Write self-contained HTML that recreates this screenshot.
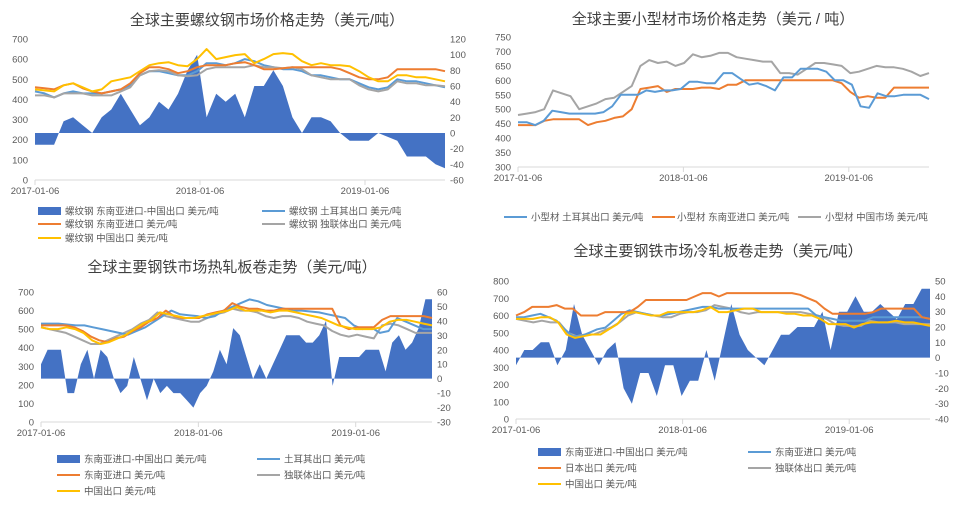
<!DOCTYPE html>
<html><head><meta charset="utf-8">
<style>
html,body{margin:0;padding:0;background:#fff;}
svg{display:block;font-family:"Liberation Sans","Noto Sans CJK SC",sans-serif;}
</style></head>
<body>
<svg id="root" width="971" height="508" viewBox="0 0 971 508"></svg>
<script>
// ---------- Chart 1: rebar ----------
const c1Title = "全球主要螺纹钢市场价格走势（美元/吨）";
const c1China = [450,445,440,470,480,460,440,450,490,500,510,540,570,580,585,570,565,600,650,600,610,620,625,580,600,625,630,625,590,570,580,570,570,565,540,510,490,490,520,520,510,510,500,490];
const c1Sea = [460,455,450,470,480,455,440,430,440,450,480,530,560,560,550,530,540,560,570,570,570,580,585,570,550,550,555,560,560,560,560,560,550,530,510,500,500,510,550,550,550,550,550,540];
const c1Turkey = [440,430,410,430,440,430,430,430,440,450,470,520,540,540,530,520,520,540,580,580,570,580,600,590,570,560,550,550,540,520,520,510,500,500,480,460,450,460,500,490,490,480,470,460];
const c1Cis = [420,420,410,430,430,430,420,420,420,440,460,520,540,545,540,520,515,520,550,560,560,560,560,570,560,560,555,560,550,520,510,500,500,500,470,450,440,450,490,480,480,470,470,465];
const c1Diff = [-15,-15,-15,15,20,10,0,20,30,50,30,10,20,40,30,50,80,100,20,50,40,50,20,60,60,80,60,20,0,20,20,15,0,-10,-10,-10,0,-5,-10,-30,-30,-30,-40,-45];
const c1LeftTicks = [0,100,200,300,400,500,600,700];
const c1RightTicks = [-60,-40,-20,0,20,40,60,80,100,120];
// ---------- Chart 2: sections ----------
const c2Title = "全球主要小型材市场价格走势（美元 / 吨）";
const c2China = [480,485,490,500,565,555,545,500,510,520,535,540,560,580,650,670,660,665,650,660,690,680,685,695,695,680,675,670,665,665,625,625,620,640,660,660,655,650,625,630,640,650,645,645,640,630,615,625];
const c2Turkey = [455,455,445,460,495,490,485,485,485,485,490,510,550,550,550,565,560,565,565,570,595,595,590,590,625,625,605,585,590,580,565,610,610,640,640,640,630,600,600,585,510,505,555,545,545,550,550,550,535];
const c2Sea = [445,445,445,460,465,465,465,465,445,455,460,470,475,500,570,575,580,560,570,570,570,575,575,570,585,585,600,600,600,600,600,600,600,600,600,600,600,590,560,540,545,540,540,575,575,575,575,575];
const c2LeftTicks = [300,350,400,450,500,550,600,650,700,750];
// ---------- Chart 3: HRC ----------
const c3Title = "全球主要钢铁市场热轧板卷走势（美元/吨）";
const c3Turkey = [530,530,530,525,520,520,510,500,490,480,470,490,510,540,570,600,580,575,570,560,570,600,620,640,660,650,630,620,610,600,600,595,590,580,570,560,520,500,510,480,490,560,540,520,500,500];
const c3Sea = [520,520,520,520,510,490,460,440,430,450,460,490,510,540,560,600,570,560,560,560,580,590,600,640,620,610,610,600,600,610,610,610,610,610,610,610,520,500,510,510,510,550,570,570,570,570,570,560];
const c3Cis = [510,500,490,480,460,440,420,420,440,460,480,500,530,550,590,570,560,550,540,540,560,580,590,610,600,600,590,570,560,570,570,560,540,530,520,490,470,460,470,460,450,520,530,520,500,480,480,480];
const c3China = [510,500,500,510,500,480,440,420,430,450,470,500,530,550,590,580,570,560,560,570,580,590,600,620,600,600,600,590,600,600,590,580,570,560,540,520,510,500,500,500,510,540,550,550,540,530,520];
const c3Diff = [10,20,20,20,-10,-10,10,20,0,20,15,0,-10,-5,15,0,-15,0,-10,-5,-10,-10,-15,-20,-10,-5,5,20,10,35,30,15,0,10,0,10,20,30,30,30,25,25,30,40,-5,15,15,15,15,20,20,20,5,25,30,20,25,35,55,55];
const c3LeftTicks = [0,100,200,300,400,500,600,700];
const c3RightTicks = [-30,-20,-10,0,10,20,30,40,50,60];
// ---------- Chart 4: CRC ----------
const c4Title = "全球主要钢铁市场冷轧板卷走势（美元/吨）";
const c4Japan = [600,620,650,650,650,660,640,640,600,600,600,620,620,620,620,650,690,690,690,690,690,690,710,730,730,710,730,730,730,730,730,730,730,730,730,720,700,680,640,610,610,610,610,610,620,640,640,640,640,640,590,580];
const c4Sea = [590,590,600,610,590,570,520,480,480,500,520,530,570,610,630,620,610,600,600,610,620,630,640,650,650,640,640,640,640,640,640,640,640,640,640,640,640,600,590,580,570,570,570,570,590,590,590,590,590,590,590,580];
const c4Cis = [580,570,560,570,560,560,500,480,490,490,510,530,560,600,620,610,600,590,590,610,620,620,630,660,650,640,620,610,620,620,620,620,620,620,610,600,580,550,540,540,540,570,560,560,560,550,550,550,550];
const c4China = [580,580,580,590,590,560,490,470,480,490,490,520,550,610,620,610,600,600,620,620,620,620,630,650,620,620,630,640,640,620,620,620,610,610,600,600,580,550,550,550,530,550,560,560,560,570,560,560,550,540];
const c4Diff = [-5,5,5,10,10,-5,5,35,15,5,-5,5,10,-20,-30,-10,-10,-25,-5,-5,-25,-15,-15,5,-15,10,35,15,5,0,-5,5,15,15,20,20,20,30,5,30,30,40,30,30,35,30,25,35,35,45,45];
const c4LeftTicks = [0,100,200,300,400,500,600,700,800];
const c4RightTicks = [-40,-30,-20,-10,0,10,20,30,40,50];
// shared x ticks
const xTickLabels = ["2017-01-06","2018-01-06","2019-01-06"];
const xTickDays = [0,365,730];
const totalDays = 907;

const NS="http://www.w3.org/2000/svg";
const root=document.getElementById('root');
function mk(tag,attrs,parent,text){const e=document.createElementNS(NS,tag);for(const k in attrs)e.setAttribute(k,attrs[k]);if(text!==undefined)e.textContent=text;(parent||root).appendChild(e);return e;}

function drawChart(cfg){
  const g=mk('g',{});
  
  
  const xs=d=>cfg.x0+(cfg.x1-cfg.x0)*d/totalDays;
  const xi=(i,n)=>xs(totalDays*i/(n-1));
  const yl=v=>cfg.yB-(cfg.yB-cfg.yT)*(v-cfg.lmin)/(cfg.lmax-cfg.lmin);
  const yr=v=>cfg.yB-(cfg.yB-cfg.yT)*(v-cfg.rmin)/(cfg.rmax-cfg.rmin);
  const t=mk('text',{x:cfg.tx,y:cfg.ty,'text-anchor':'middle','font-size':15,fill:'#404040'},g,cfg.title);
  
  
  cfg.lticks.forEach(v=>{
    const e=mk('text',{x:cfg.x0-7,y:yl(v)+3.5,'text-anchor':'end','font-size':9.5,fill:'#595959'},g,v);
    
    
  });
  if(cfg.rticks){cfg.rticks.forEach(v=>{
    const e=mk('text',{x:cfg.x1+5,y:yr(v)+3.5,'text-anchor':'start','font-size':9.5,fill:'#595959'},g,v);
    
    
  });}
  if(cfg.area){
    const a=cfg.area,z=yr(0);
    let d='M'+xi(0,a.length)+','+z;
    a.forEach((v,i)=>{d+=' L'+xi(i,a.length).toFixed(1)+','+yr(v).toFixed(1);});
    d+=' L'+xi(a.length-1,a.length)+','+z+' Z';
    const p=mk('path',{d:d,fill:'#4472C4'},g);
    
    
  }
  const ax=mk('line',{x1:cfg.x0,x2:cfg.x1,y1:cfg.yB,y2:cfg.yB,stroke:'#d9d9d9','stroke-width':1},g);
  
  
  xTickDays.forEach((d,i)=>{
    mk('line',{x1:xs(d),x2:xs(d),y1:cfg.yB,y2:cfg.yB+5,stroke:'#d9d9d9'},g);
    const e=mk('text',{x:xs(d),y:cfg.yB+14,'text-anchor':'middle','font-size':9.5,fill:'#595959'},g,xTickLabels[i]);
    
    
  });
  cfg.lines.forEach(s=>{
    const pts=s.data.map((v,i)=>xi(i,s.data.length).toFixed(1)+','+yl(v).toFixed(1)).join(' ');
    const p=mk('polyline',{points:pts,fill:'none',stroke:s.color,'stroke-width':2,'stroke-linejoin':'round'},g);
    
    
  });
  cfg.legend.forEach(L=>{
    const lg=mk('g',{},g);
    
    
    if(L.area) mk('rect',{x:L.x,y:L.y-4,width:23,height:8,fill:L.color},lg);
    else mk('line',{x1:L.x,x2:L.x+23,y1:L.y,y2:L.y,stroke:L.color,'stroke-width':2},lg);
    mk('text',{x:L.x+(L.tx||27),y:L.y+3.5,'font-size':9.5,fill:'#595959'},lg,L.text);
  });
}
const B='#5B9BD5',O='#ED7D31',G='#A5A5A5',Y='#FFC000',A='#4472C4';
drawChart({name:'rebar-chart',title:c1Title,tx:267,ty:25,x0:35,x1:445,yT:39,yB:180,lmin:0,lmax:700,rmin:-60,rmax:120,lticks:c1LeftTicks,rticks:c1RightTicks,area:c1Diff,
 lines:[{data:c1Turkey,color:B,name:'rebar-turkey-line'},{data:c1Cis,color:G,name:'rebar-cis-line'},{data:c1Sea,color:O,name:'rebar-sea-line'},{data:c1China,color:Y,name:'rebar-china-line'}],
 legend:[{x:38,y:211,area:1,color:A,text:'螺纹钢 东南亚进口-中国出口 美元/吨'},{x:262,y:211,color:B,text:'螺纹钢 土耳其出口 美元/吨'},{x:38,y:224,color:O,text:'螺纹钢 东南亚进口 美元/吨'},{x:262,y:224,color:G,text:'螺纹钢 独联体出口 美元/吨'},{x:38,y:238,color:Y,text:'螺纹钢 中国出口 美元/吨'}]});
drawChart({name:'sections-chart',title:c2Title,tx:713,ty:24,x0:518,x1:929,yT:37,yB:167,lmin:300,lmax:750,lticks:c2LeftTicks,
 lines:[{data:c2China,color:G,name:'sections-china-line'},{data:c2Sea,color:O,name:'sections-sea-line'},{data:c2Turkey,color:B,name:'sections-turkey-line'}],
 legend:[{x:504,y:217,color:B,text:'小型材 土耳其出口 美元/吨',tx:27},{x:652,y:217,color:O,text:'小型材 东南亚进口 美元/吨',tx:25},{x:798,y:217,color:G,text:'小型材 中国市场 美元/吨',tx:27}]});
drawChart({name:'hrc-chart',title:c3Title,tx:232,ty:272,x0:41,x1:432,yT:292,yB:422,lmin:0,lmax:700,rmin:-30,rmax:60,lticks:c3LeftTicks,rticks:c3RightTicks,area:c3Diff,
 lines:[{data:c3Cis,color:G,name:'hrc-cis-line'},{data:c3Turkey,color:B,name:'hrc-turkey-line'},{data:c3Sea,color:O,name:'hrc-sea-line'},{data:c3China,color:Y,name:'hrc-china-line'}],
 legend:[{x:57,y:459,area:1,color:A,text:'东南亚进口-中国出口 美元/吨'},{x:257,y:459,color:B,text:'土耳其出口 美元/吨'},{x:57,y:475,color:O,text:'东南亚进口 美元/吨'},{x:257,y:475,color:G,text:'独联体出口 美元/吨'},{x:57,y:491,color:Y,text:'中国出口 美元/吨'}]});
drawChart({name:'crc-chart',title:c4Title,tx:718,ty:256,x0:516,x1:930,yT:281,yB:419,lmin:0,lmax:800,rmin:-40,rmax:50,lticks:c4LeftTicks,rticks:c4RightTicks,area:c4Diff,
 lines:[{data:c4Cis,color:G,name:'crc-cis-line'},{data:c4Sea,color:B,name:'crc-sea-line'},{data:c4Japan,color:O,name:'crc-japan-line'},{data:c4China,color:Y,name:'crc-china-line'}],
 legend:[{x:538,y:452,area:1,color:A,text:'东南亚进口-中国出口 美元/吨'},{x:748,y:452,color:B,text:'东南亚进口 美元/吨'},{x:538,y:468,color:O,text:'日本出口 美元/吨'},{x:748,y:468,color:G,text:'独联体出口 美元/吨'},{x:538,y:484,color:Y,text:'中国出口 美元/吨'}]});
</script>
</body></html>
